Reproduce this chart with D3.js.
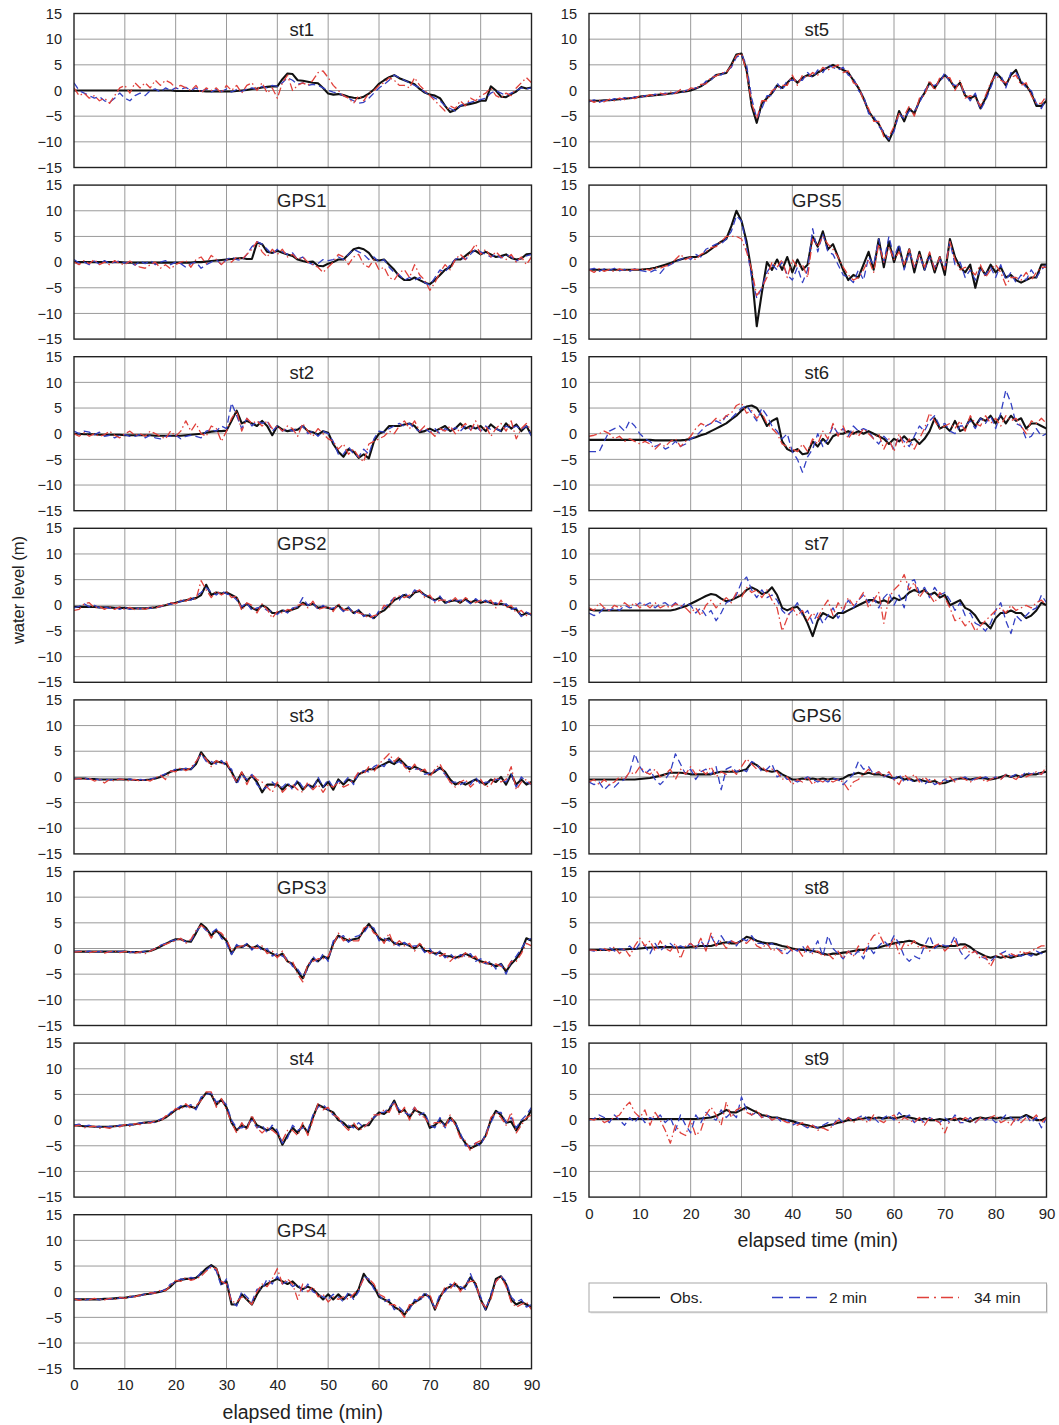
<!DOCTYPE html>
<html><head><meta charset="utf-8">
<script src="https://cdn.jsdelivr.net/npm/d3@7"></script>
<style>
html,body{margin:0;padding:0;background:#fff;}
svg{display:block;font-family:"Liberation Sans",Arial,Helvetica,sans-serif;}
</style></head>
<body><svg id="chart" width="1059" height="1425"></svg>
<script>
// ---------- data ----------
const minutes = d3.range(0, 91);           // sampling grid, 1 min
const xTicks = [0,10,20,30,40,50,60,70,80,90];
const yTicks = [15,10,5,0,-5,-10,-15];
const seriesNames = ["Obs.", "2 min", "34 min"];
const leftStations = ["st1","GPS1","st2","GPS2","st3","GPS3","st4","GPS4"];
const rightStations = ["st5","GPS5","st6","st7","GPS6","st8","st9"];

const st1_obs = [0,0,0,0,0,0,0,0,0,0, 0,0,0,0,0,0,0,0,0,0, -0.1,-0.1,-0.1,-0.1,-0.1,-0.1,-0.2,-0.2,-0.2,-0.2, -0.2,-0.2,-0.1,0,0.1,0.3,0.4,0.6,0.7,0.8, 0.8,2.2,3.3,3.2,2.0,1.9,1.7,1.5,1.4,0.5, -0.6,-0.8,-0.7,-0.9,-1.2,-1.4,-1.5,-1.2,-0.6,0.2, 1.3,2.0,2.6,3.0,2.4,2.0,1.6,1.2,0.3,-0.4, -0.8,-1.0,-1.5,-3.0,-4.2,-3.8,-3.0,-2.8,-2.6,-2.4, -2.0,-2.0,0.8,0.0,-1.2,-1.3,-0.7,-0.2,0.7,0.4,0.6];
const st1_2min = [1.5,0.0,-0.5,-1.0,-1.5,-1.2,-2.0,-2.3,-1.5,-0.5, -1.5,-2.0,-1.0,-0.5,-1.0,0.0,0.3,-0.3,0.5,0.0, 0.5,0.2,0.6,0.0,0.5,-0.2,0.3,-0.3,0.2,-0.2, 0.3,-0.3,0.2,-0.2,0.3,0.5,0.2,0.8,0.5,1.0, 0.8,1.5,2.5,2.0,1.2,1.5,1.0,1.2,1.0,0.5, 0.0,-0.3,-0.5,-1.0,-1.5,-2.0,-2.5,-2.3,-1.5,-0.5, 0.5,1.2,2.0,3.0,2.5,2.0,1.5,1.0,0.5,-0.3, -1.0,-1.5,-2.0,-3.0,-3.5,-4.0,-3.0,-2.5,-2.3,-2.0, -1.8,-1.5,-0.5,0.0,-0.5,-1.0,-0.5,0.0,0.5,0.3,0.5];
const st1_34min = [0.5,-1.0,-0.5,-1.5,-1.0,-2.0,-1.5,-2.5,-1.0,0.5, 1.0,-0.5,1.5,0.5,1.5,0.5,2.0,1.0,2.0,1.5, 0.5,1.0,0.5,0.0,1.0,-0.5,0.5,0.0,0.5,-0.5, 1.0,0.0,1.0,-0.5,1.0,1.5,0.0,1.5,-0.5,0.5, -1.5,1.5,3.0,0.0,1.0,1.5,1.0,2.0,3.5,3.8, 2.5,1.0,0.0,-1.0,-1.5,-2.5,-1.0,-2.0,-0.5,0.0, 1.0,1.5,2.5,2.0,1.0,1.0,0.5,2.5,1.0,0.0, -1.0,-2.0,-3.0,-4.0,-3.0,-3.5,-2.0,-3.0,-1.5,-2.0, -1.0,-0.5,0.5,-1.0,-1.5,-0.5,-1.0,0.5,1.5,2.5,1.5];

const GPS1_obs = [0,0,0,0,0,0,0,0,0,0, -0.1,-0.1,-0.1,-0.1,-0.1,-0.1,-0.1,-0.1,-0.1,-0.1, -0.1,-0.1,-0.1,-0.1,0,0,0.1,0.2,0.3,0.4, 0.5,0.6,0.7,0.8,0.6,0.6,3.8,3.5,2.0,1.8, 2.2,1.8,1.5,1.2,0.5,0.2,0.0,0.1,-0.7,-0.8, -0.3,0.0,0.5,0.5,1.5,2.5,2.8,2.5,1.8,0.5, 0.3,0.5,-0.5,-1.5,-2.8,-3.5,-3.5,-3.0,-3.5,-4.0, -4.3,-3.5,-2.5,-1.5,-1.0,0.5,0.5,1.2,2.0,2.2, 1.5,2.0,1.5,1.0,1.2,1.5,0.8,0.5,0.7,1.5,1.6];
const GPS1_2min = [0.5,-0.2,0,-0.5,0.2,-0.4,0.3,-0.3,0,0.2, -0.2,0,-0.6,0.2,-0.3,0.3,-0.5,0,0.3,-0.5, 0,-0.3,-1.0,-0.3,0,-1.2,-0.5,0,0.5,-0.5, 0.5,1.0,0.5,0.3,1.5,3.0,4.0,3.5,2.5,1.5, 2.5,2.0,1.5,1.8,0.5,1.0,0,-0.5,-0.3,0.5, 0.3,0.5,1.0,0.5,1.5,2.5,2.0,1.5,0.5,1.0, 0,0.5,-1.0,-2.0,-2.5,-3.5,-3.0,-3.5,-3.0,-4.0, -4.5,-3.0,-1.5,-2.0,-0.5,0.5,1.0,0.5,1.5,2.5, 2.0,1.5,1.0,1.5,0.8,1.5,1.0,0.2,0.8,1.2,1.5];
const GPS1_34min = [0,-0.5,0.3,-0.3,0.5,-0.5,0,-0.5,0.3,-0.3, -0.5,0.2,-0.5,-1.0,-1.2,-0.5,0,-1.2,-0.5,-1.3, -0.5,0,0.3,-1.0,0.5,1.0,-0.3,1.3,0.5,-0.5, 0.5,0,1.0,0.5,1.5,2.5,4.0,2.0,1.0,2.5, 1.5,2.5,1.0,1.5,0.5,1.0,0,-0.5,-1.0,-2.0, -1.0,0,1.5,1.0,-0.5,1.0,1.5,-0.5,-1.0,0.5, -1.5,-1.0,-3.0,-3.5,-2.0,-1.5,-3.0,-0.5,-2.5,-3.5, -5.5,-4.0,-2.0,-0.5,-1.5,0.5,1.5,0.5,2.0,3.5, 1.5,2.5,1.0,2.0,1.0,0.5,1.5,0,1.0,-0.5,1.0];

const st2_obs = [0.0,0.0,-0.1,-0.1,-0.1,-0.2,-0.2,-0.2,-0.2,-0.2, -0.3,-0.3,-0.3,-0.3,-0.3,-0.3,-0.4,-0.4,-0.4,-0.4, -0.4,-0.4,-0.3,-0.2,-0.1,0.0,0.2,0.4,0.5,0.5, 0.6,2.5,4.5,2.0,2.5,2.0,1.5,2.5,1.5,-0.3, 1.5,0.8,0.5,0.7,0.8,1.5,0.5,0.3,-0.2,0.5, 0.2,-2.0,-3.5,-4.5,-3.0,-3.5,-4.7,-4.0,-4.8,-1.5, 0.0,0.4,1.5,1.5,1.5,1.8,2.0,1.5,0.3,0.5, 1.0,0.5,1.0,1.5,0.5,1.0,2.0,1.0,1.5,1.0, 1.5,0.5,1.8,1.0,0.5,2.0,1.0,1.8,0.5,1.5,-0.3];
const st2_2min = [0.5,0,0.5,0.3,-0.2,0.3,-0.5,-0.3,-0.8,-0.3, -0.2,-0.5,-0.5,-0.2,-0.8,-0.3,-0.8,-1.0,-0.5,-0.5, -0.3,-1.0,-0.5,-0.3,-0.5,-0.8,0.5,0.8,0.5,1.5, 1.0,6.0,3.5,1.0,3.0,1.5,2.5,2.0,2.5,0.5, 1.5,0.5,1.0,0.5,1.0,1.5,0,0.5,-0.5,0.5, 0,-1.5,-4.0,-4.0,-2.5,-4.0,-4.5,-3.0,-4.0,-1.0, 0.5,0.3,1.0,1.5,2.0,1.5,2.0,1.0,0.5,1.0, 0.3,1.0,0,1.0,0.5,1.2,0.5,1.5,0.8,1.5, 0.5,1.5,0.8,1.0,0.5,1.5,1.0,1.5,0.8,1.5,-0.5];
const st2_34min = [0,-0.5,0.2,-0.5,0,-0.5,-0.2,0.5,-0.3,-0.8, 0,0.5,-0.3,0,-0.5,0.5,0,-0.5,-1.0,0.5, -0.5,0.5,2.5,0.5,2.0,0,-0.5,1.5,1.0,-1.5, 0.5,3.0,4.5,0.5,3.0,2.0,2.5,1.5,2.5,1.0, 1.5,0.5,1.5,1.0,-0.5,2.0,0.5,-0.5,1.0,0, -1.0,-1.5,-3.0,-2.0,-4.0,-3.0,-4.5,-5.5,-2.0,-1.5, -1.0,-0.5,0.5,0,1.5,2.5,1.0,2.5,0.5,1.5, 0.5,-0.5,1.0,0.5,1.5,0,1.0,2.0,0.5,2.5, 0.5,1.5,-0.5,1.0,2.0,0.5,2.5,-1.0,1.0,2.0,0.5];

const GPS2_obs = [-0.3,-0.3,-0.3,-0.3,-0.3,-0.4,-0.4,-0.4,-0.5,-0.5, -0.5,-0.6,-0.6,-0.6,-0.6,-0.5,-0.4,-0.2,0.0,0.3, 0.5,0.8,1.0,1.2,1.4,2.0,4.0,2.0,2.5,2.3, 2.5,2.0,1.5,-0.5,0.3,-0.5,-1.0,0.0,-0.5,-1.5, -1.5,-1.0,-1.2,-0.8,-0.5,0.5,0.0,0.3,-0.5,-0.3, -0.5,-0.8,0.0,-1.0,-0.5,-1.5,-1.0,-2.0,-2.0,-2.5, -1.5,-1.0,0.0,1.0,1.5,2.0,1.5,2.5,2.8,2.0, 1.5,1.0,1.5,0.5,0.8,1.0,0.5,1.2,0.5,1.0, 0.5,0.8,0.5,0.2,0.3,0.0,-0.5,-0.8,-2.0,-1.5,-1.8];
const GPS2_2min = [-0.5,-0.2,0.3,-0.3,0.0,-0.5,-0.3,-0.6,-0.4,-0.8, -0.4,-0.8,-0.5,-0.7,-0.4,-0.6,-0.3,-0.3,0.2,0.2, 0.6,0.7,1.2,1.0,1.8,2.5,3.5,2.5,2.0,2.8, 2.2,2.0,1.0,-0.3,0.5,-1.0,-0.5,-0.3,-1.0,-1.2, -1.8,-0.8,-1.5,-0.5,-0.3,1.5,0.0,0.5,-0.8,0.0, -0.8,-0.5,-0.3,-1.2,-0.3,-1.8,-0.8,-2.2,-1.5,-2.8, -1.0,-0.5,0.5,1.5,1.0,2.5,1.5,3.0,2.5,2.0, 1.5,0.8,1.8,0.3,1.0,0.8,1.0,1.0,0.3,1.3, 0.5,1.0,0.2,0.5,0.0,0.3,-0.8,-0.5,-2.2,-1.3,-2.0];
const GPS2_34min = [-1.0,-0.8,0.3,0.5,-0.5,-0.2,-0.8,-0.3,-0.8,-0.3, -0.8,-0.4,-0.9,-0.5,-0.8,-0.3,-0.6,-0.1,0.0,0.5, 0.3,1.0,0.8,1.5,1.2,4.8,3.0,1.5,2.8,2.0, 2.7,1.5,1.8,-1.0,0.5,0.0,-1.5,0.3,-0.8,-2.5, -1.2,-1.5,-0.8,-1.0,0.0,0.3,-0.5,0.8,-0.8,-0.5, -0.2,-1.2,0.3,-0.8,-1.0,-1.2,-1.5,-1.8,-2.5,-2.0, -1.8,0.0,-0.5,1.5,1.8,1.5,2.0,2.5,3.0,1.5, 2.0,0.5,1.0,1.0,0.5,1.5,0.3,1.5,0.8,0.5, 1.0,0.5,1.0,-0.5,1.0,-0.5,0.0,-1.5,-1.0,-2.0,-1.5];

const st3_obs = [-0.3,-0.3,-0.3,-0.4,-0.4,-0.5,-0.5,-0.5,-0.5,-0.5, -0.5,-0.5,-0.6,-0.6,-0.6,-0.5,-0.3,0.0,0.5,1.0, 1.3,1.5,1.5,1.5,2.5,4.8,3.5,2.5,3.0,2.8, 2.5,1.0,-1.0,0.8,-0.8,0.2,-1.0,-3.0,-1.5,-1.5, -1.5,-2.5,-1.5,-2.0,-1.0,-2.5,-1.5,-2.0,-0.5,-2.0, -1.0,-2.5,-0.5,-1.5,-0.5,-1.0,0.5,1.0,1.5,1.5, 2.0,2.5,3.0,2.5,3.5,2.5,1.5,2.0,1.5,1.0, 0.5,1.0,1.8,1.0,-0.5,-1.5,-1.0,-1.5,-1.0,-0.5, -1.0,-1.5,-0.5,-1.0,0.0,-1.5,0.5,-1.5,-0.5,-1.5,-1.0];
const st3_2min = [-0.3,-0.4,-0.2,-0.5,-0.3,-0.6,-0.4,-0.6,-0.5,-0.4, -0.6,-0.4,-0.7,-0.5,-0.6,-0.4,-0.2,0.2,0.6,1.0, 1.5,1.3,1.7,1.4,2.8,4.5,3.0,3.0,2.5,3.2, 2.0,1.5,-1.5,0.5,-0.5,0.5,-1.5,-2.5,-2.0,-1.0, -2.0,-2.0,-1.0,-2.5,-0.5,-2.0,-1.5,-2.5,0.0,-2.0, -0.5,-2.0,-0.8,-1.2,0.0,-1.5,0.8,1.2,1.0,2.0, 2.5,2.0,3.5,2.5,3.0,2.0,2.0,1.5,1.5,0.5, 0.8,1.2,1.5,0.5,-1.0,-1.0,-1.5,-1.0,-1.5,0.0, -1.5,-1.0,-1.0,-0.5,-0.5,-1.0,0.5,-2.0,0.0,-1.0,-1.5];
const st3_34min = [-0.5,-0.3,-0.5,-0.3,-0.8,-0.5,-1.2,-0.5,-0.8,-0.4, -0.6,-0.8,-0.5,-0.8,-0.5,-0.8,-0.2,0.3,-0.5,1.2, 1.0,1.8,1.2,1.8,3.0,4.5,3.5,2.0,3.2,2.5, 3.0,0.5,-1.0,1.0,-1.5,0.5,-0.5,-1.0,-2.0,-3.0, -1.0,-3.0,-2.0,-1.5,-2.5,-3.0,-1.0,-2.5,-1.5,-3.0, -1.5,-2.0,-1.0,-2.0,-1.5,-0.5,1.0,0.5,2.0,1.0, 2.5,3.5,4.5,3.0,4.0,2.0,1.0,2.5,1.0,1.5, 0.0,1.5,2.5,0.5,-1.0,-2.0,-1.0,-0.5,-2.0,-1.0, -0.5,-2.0,-1.5,0.0,-1.0,-0.5,2.0,-2.5,-1.0,-0.5,-1.5];

const GPS3_obs = [-0.6,-0.6,-0.6,-0.6,-0.6,-0.6,-0.6,-0.6,-0.6,-0.6, -0.6,-0.7,-0.7,-0.7,-0.6,-0.5,-0.1,0.4,0.9,1.4, 1.8,1.8,1.4,1.3,3.0,4.8,4.0,2.5,3.5,2.5, 1.5,-1.0,0.5,0.3,0.8,0.0,0.5,0.0,-0.5,-1.0, -1.5,-1.0,-2.5,-3.0,-4.5,-5.8,-3.5,-2.0,-2.5,-1.5, -2.0,1.0,2.5,2.0,1.5,1.8,2.0,3.5,4.8,3.5, 2.0,1.5,2.0,1.0,0.8,1.0,0.5,0.0,0.8,-0.5, -0.5,-1.0,-0.8,-1.5,-1.5,-1.8,-1.5,-1.0,-1.5,-2.0, -2.5,-2.8,-3.0,-3.5,-3.0,-4.5,-3.0,-2.0,-0.5,2.0,1.5];
const GPS3_2min = [-0.6,-0.5,-0.7,-0.5,-0.7,-0.6,-0.5,-0.7,-0.5,-0.6, -0.5,-0.8,-0.6,-0.8,-0.5,-0.4,0.0,0.6,1.0,1.5, 1.7,1.9,1.3,1.5,3.2,4.5,3.5,3.0,3.8,2.0, 1.0,-1.2,0.8,0.0,1.0,-0.3,0.8,-0.5,0.0,-1.5, -1.0,-1.5,-2.0,-3.5,-4.0,-5.5,-4.0,-1.5,-2.8,-1.0, -2.5,1.5,2.0,2.5,1.2,2.2,2.5,3.0,4.5,4.0, 1.5,2.0,1.5,1.2,0.5,1.2,0.3,0.5,0.5,-0.8, 0.0,-1.5,-0.5,-1.8,-1.0,-2.0,-1.2,-1.5,-1.0,-2.5, -2.0,-3.0,-2.5,-4.0,-3.0,-5.0,-2.5,-1.5,0.0,1.5,2.0];
const GPS3_34min = [-0.7,-0.6,-0.5,-0.8,-0.6,-0.5,-0.9,-0.6,-0.5,-0.8, -0.6,-0.6,-0.9,-0.6,-1.0,-0.5,0.0,0.5,0.8,1.2, 1.5,2.0,1.0,1.8,3.5,4.5,3.8,2.0,3.5,3.0, 1.8,-0.5,0.2,0.5,0.5,0.3,0.0,0.5,-1.0,-0.5, -1.8,-0.5,-2.8,-2.5,-5.0,-6.5,-3.0,-2.5,-2.0,-2.0, -1.5,0.5,3.0,1.5,2.0,1.5,1.5,4.0,4.5,3.0, 2.5,1.0,3.0,0.5,1.5,0.5,1.0,-0.5,1.0,0.0, -1.0,-0.5,-1.5,-1.0,-2.5,-1.5,-2.0,-0.8,-2.0,-1.5, -3.0,-2.5,-3.5,-3.0,-3.5,-4.0,-2.5,-2.5,-1.0,1.0,0.5];

const st4_obs = [-1.0,-1.1,-1.2,-1.2,-1.3,-1.3,-1.3,-1.3,-1.2,-1.1, -1.0,-0.9,-0.8,-0.6,-0.5,-0.4,-0.3,0.0,0.5,1.2, 2.0,2.5,2.8,2.6,2.3,4.0,5.3,5.0,3.0,4.0, 2.5,-0.5,-2.0,-1.0,-1.5,0.5,-1.0,-1.5,-2.0,-1.5, -2.5,-4.8,-3.0,-1.5,-2.5,-1.0,-2.5,0.5,3.0,2.5, 2.0,1.5,0.0,-0.5,-1.5,-1.0,-1.8,-1.0,-1.0,0.5, 1.5,1.2,2.0,3.8,1.5,2.0,0.5,2.0,1.5,1.0, -1.5,-1.0,0.0,-1.0,0.5,-0.5,-3.0,-4.5,-5.5,-5.0, -4.5,-3.0,0.0,1.8,1.0,-0.5,-0.3,-2.0,-0.3,0.2,2.0];
const st4_2min = [-1.0,-0.8,-1.2,-1.0,-1.4,-1.2,-1.5,-1.2,-1.3,-1.0, -1.1,-0.8,-1.0,-0.5,-0.7,-0.3,-0.5,0.2,0.5,1.5, 2.0,2.8,2.5,3.0,2.0,4.5,5.0,5.3,3.5,4.0, 3.0,0.0,-1.5,-1.5,-1.0,0.0,-1.5,-1.0,-2.5,-1.0, -2.0,-4.5,-3.5,-1.0,-2.0,-1.5,-2.0,1.0,2.5,3.0, 2.0,1.0,0.5,-1.0,-1.0,-1.5,-0.5,-1.5,-0.5,0.5, 1.5,1.5,2.5,3.5,2.0,1.5,1.0,2.5,1.0,1.5, -1.0,-1.5,0.5,-1.5,0.0,-0.5,-2.5,-5.0,-5.0,-4.5, -5.0,-2.5,-0.5,1.5,1.5,-0.5,0.5,-1.5,0.0,1.0,2.5];
const st4_34min = [-1.2,-1.0,-1.5,-1.3,-1.2,-1.6,-1.4,-1.6,-1.2,-1.3, -0.9,-1.2,-0.7,-0.9,-0.4,-0.6,-0.1,-0.3,0.8,1.0, 2.3,2.0,3.2,2.2,2.8,3.8,5.5,5.5,2.5,4.2, 2.0,-0.5,-2.5,-0.5,-2.0,1.0,-1.5,-2.5,-1.5,-2.0, -2.8,-4.0,-2.0,-2.0,-3.0,-0.5,-3.0,0.0,3.2,2.0, 2.5,1.0,0.5,-1.0,-2.0,-0.5,-2.0,-1.5,-0.5,1.0, 1.0,2.0,1.5,3.5,1.0,2.5,0.0,2.5,1.0,0.5, -1.0,-0.5,-0.5,-1.5,1.0,-1.0,-3.5,-4.0,-6.0,-4.5, -4.0,-3.5,0.5,1.5,0.5,-1.0,1.5,-2.5,-1.0,0.5,1.0];

const GPS4_obs = [-1.5,-1.5,-1.5,-1.5,-1.5,-1.5,-1.4,-1.4,-1.3,-1.2, -1.2,-1.0,-0.9,-0.7,-0.5,-0.4,-0.2,0.0,0.3,1.0, 2.0,2.3,2.5,2.5,2.7,3.5,4.5,5.2,4.5,1.5, 2.0,-2.5,-2.5,-0.5,-1.5,-2.5,-0.5,1.0,1.5,2.0, 2.5,2.0,1.5,2.0,1.0,0.5,1.0,0.5,-0.5,-1.5, -0.5,-1.5,-0.5,-1.5,-0.5,-1.0,0.5,3.5,2.0,1.0, -1.0,-1.5,-2.0,-3.0,-3.5,-4.5,-3.0,-2.0,-1.5,-0.5, -1.0,-3.5,-1.0,0.5,1.0,1.5,0.5,1.0,2.8,1.5, -1.5,-3.5,-1.0,2.5,3.0,1.5,-1.5,-2.5,-2.0,-2.5,-3.0];
const GPS4_2min = [-1.6,-1.4,-1.6,-1.5,-1.4,-1.6,-1.3,-1.5,-1.2,-1.3, -1.1,-1.1,-0.8,-0.8,-0.4,-0.5,0.0,0.0,0.5,1.5, 1.8,2.5,2.3,2.8,2.5,3.8,4.2,5.0,4.0,1.0, 2.5,-2.0,-2.8,0.0,-1.0,-2.0,0.5,0.5,2.5,1.5, 3.0,1.5,2.0,1.0,1.5,0.0,1.5,0.0,-0.5,-1.0, -1.5,-0.5,-1.0,-2.0,0.0,-1.5,0.0,3.0,2.5,0.5, -0.5,-2.0,-1.5,-3.5,-3.0,-4.0,-3.5,-1.5,-2.0,0.0, -1.5,-3.0,-0.5,0.0,1.5,1.0,1.0,0.5,3.5,1.0, -1.0,-3.5,-0.5,2.0,3.0,2.0,-1.0,-2.0,-1.5,-3.0,-2.5];
const GPS4_34min = [-1.4,-1.7,-1.4,-1.6,-1.3,-1.5,-1.6,-1.3,-1.5,-1.1, -1.3,-0.9,-1.0,-0.6,-0.6,-0.2,-0.3,0.3,0.2,1.2, 2.2,2.0,2.8,2.2,2.5,3.0,4.0,4.8,4.5,2.0, 1.5,-2.0,-2.0,-1.0,-1.5,-2.5,0.0,1.5,1.0,2.5, 4.5,1.5,2.5,1.5,-1.5,1.5,0.0,1.0,-1.0,-0.5, -2.0,-1.0,-1.5,-1.0,-1.5,-0.5,0.5,2.5,2.5,1.5, -0.5,-1.0,-2.5,-2.5,-3.5,-5.0,-2.5,-2.5,-1.0,-1.0, -0.5,-3.5,-1.5,1.0,0.5,2.0,0.0,1.5,2.0,2.0, -2.0,-3.0,-1.5,2.0,3.0,1.0,-2.0,-3.0,-2.5,-2.0,-3.5];

const st5_obs = [-2.0,-2.0,-2.0,-1.9,-1.9,-1.8,-1.7,-1.6,-1.5,-1.4, -1.2,-1.1,-1.0,-0.9,-0.8,-0.7,-0.6,-0.5,-0.3,-0.2, 0.0,0.4,0.8,1.5,2.2,3.0,3.2,3.4,5.0,7.0, 7.2,4.0,-3.0,-6.3,-2.5,-1.5,-0.5,1.0,0.5,1.5, 2.5,1.5,2.5,3.0,2.8,3.5,4.0,4.5,5.0,4.5, 4.0,3.5,2.0,0.5,-1.5,-4.0,-5.5,-6.5,-8.5,-9.8, -7.5,-4.0,-6.0,-3.5,-4.5,-2.0,-0.5,1.5,0.5,2.0, 3.0,2.0,0.5,1.5,-1.0,-1.5,-1.0,-3.5,-1.5,1.0, 3.5,2.5,1.0,3.0,4.0,1.5,1.0,-0.5,-3.0,-3.0,-2.0];
const st5_2min = [-2.2,-1.8,-2.3,-1.9,-2.0,-1.6,-1.9,-1.4,-1.6,-1.2, -1.4,-1.0,-1.2,-0.7,-1.0,-0.5,-0.8,-0.3,-0.5,0.0, 0.2,0.5,0.7,1.8,2.0,3.2,3.0,3.8,4.5,6.5, 7.0,5.0,-1.5,-5.5,-3.5,-1.0,-1.0,1.5,0.0,2.0, 2.0,2.0,2.0,3.5,2.5,4.0,3.5,5.0,4.5,4.0, 4.5,3.0,2.5,0.0,-1.0,-4.5,-5.0,-7.0,-8.0,-9.5, -8.0,-4.5,-5.5,-4.0,-4.0,-2.5,0.0,1.0,1.0,1.5, 3.5,1.5,1.0,1.0,-0.5,-2.0,-0.5,-3.8,-2.0,0.5, 3.0,3.0,0.5,3.5,3.5,2.0,0.5,0.0,-2.5,-3.5,-1.5];
const st5_34min = [-1.8,-2.3,-1.9,-2.2,-1.7,-2.0,-1.5,-1.8,-1.3,-1.6, -1.0,-1.3,-0.8,-1.1,-0.5,-0.8,-0.3,-0.6,0.2,-0.3, 0.5,0.3,1.2,1.3,2.5,2.8,3.5,3.5,4.8,6.8, 7.3,3.5,-2.5,-5.5,-2.0,-2.0,0.0,0.5,1.0,1.0, 3.0,1.0,3.0,2.5,3.5,3.0,4.5,4.0,4.5,5.0, 3.5,3.8,1.5,1.0,-2.0,-3.5,-6.0,-6.0,-9.0,-9.0, -7.0,-4.5,-5.0,-3.0,-5.0,-1.5,-1.0,2.0,0.0,2.5, 2.5,2.5,0.0,2.0,-1.5,-1.0,-1.5,-3.0,-1.0,1.5, 3.0,2.0,1.5,2.5,3.0,1.0,1.5,-1.0,-2.5,-2.5,-1.0];

const GPS5_obs = [-1.5,-1.5,-1.5,-1.5,-1.5,-1.5,-1.5,-1.5,-1.5,-1.5, -1.5,-1.4,-1.3,-1.1,-0.8,-0.5,-0.2,0.2,0.5,0.8, 1.0,1.0,1.3,1.8,2.5,3.3,4.0,4.5,7.0,10.0, 8.0,4.0,-2.0,-12.5,-6.0,0.0,-1.5,0.5,-1.5,1.0, -2.0,0.5,-1.5,-0.5,5.0,3.0,6.0,2.5,3.5,1.0, -1.5,-3.5,-2.5,-3.0,-0.5,2.0,-1.5,4.5,-1.0,4.0, 0.0,3.0,-1.0,2.5,-2.0,2.0,-1.5,1.5,-2.0,1.0, -2.5,4.5,1.0,-1.0,-2.0,-0.5,-5.0,-1.0,-2.5,-0.5, -2.0,-1.0,-3.0,-2.5,-3.5,-4.0,-3.5,-3.0,-3.0,-0.5,-0.5];
const GPS5_2min = [-1.5,-1.2,-1.8,-1.3,-1.6,-1.2,-1.7,-1.4,-1.8,-1.3, -1.6,-1.8,-2.0,-1.5,-2.2,-1.0,-0.5,0.0,0.5,1.0, 0.5,1.5,1.0,2.5,3.0,3.5,3.5,4.5,6.0,9.0, 8.0,3.0,-3.0,-7.0,-5.0,-2.0,-0.5,-1.5,0.0,-2.5, -3.5,-1.0,-4.0,-1.5,6.5,2.0,5.5,2.0,1.5,-0.5, -2.5,-3.0,-4.0,-1.5,-3.5,1.0,-0.5,4.5,0.0,5.0, 1.0,3.5,-1.5,2.0,-1.0,1.5,-1.5,1.0,-1.0,0.5, -1.0,4.0,-0.5,0.0,-3.0,-1.5,-3.5,-1.5,-2.5,-1.0, -3.0,-0.5,-3.5,-2.0,-4.0,-2.5,-3.5,-1.5,-3.0,-1.5,-0.5];
const GPS5_34min = [-1.5,-2.0,-1.3,-1.8,-1.4,-1.9,-1.3,-1.7,-1.5,-1.4, -1.5,-1.3,-1.6,-1.0,-1.2,-0.8,-0.5,0.5,1.5,0.5, 1.0,0.5,1.5,2.0,2.8,3.0,4.0,5.0,5.0,5.0, 4.5,2.0,-1.5,-6.5,-5.0,-3.0,0.0,-1.0,0.5,-3.0, 0.5,-1.0,-0.5,-3.0,4.5,3.0,5.0,3.5,2.5,1.0, -1.0,-2.5,-3.5,-3.0,-1.5,0.5,-2.0,3.5,0.0,3.0, 0.5,2.0,-0.5,2.5,-1.0,1.5,-1.0,2.0,-1.5,1.0, -1.5,4.0,0.5,-1.5,-1.0,-1.5,-2.5,-0.5,-3.0,-1.5, -0.5,-2.0,-4.5,-3.0,-3.0,-3.5,-2.0,-3.5,-2.0,-1.0,-1.0];

const st6_obs = [-1.2,-1.2,-1.2,-1.2,-1.2,-1.2,-1.2,-1.2,-1.2,-1.2, -1.2,-1.2,-1.2,-1.3,-1.3,-1.3,-1.3,-1.3,-1.3,-1.2, -1.0,-0.7,-0.3,0.0,0.5,1.0,1.5,2.0,2.8,3.5, 4.5,5.3,5.5,5.0,3.5,1.5,2.5,3.0,-1.5,-3.0, -3.5,-3.0,-4.0,-3.8,-1.5,-2.5,-1.0,-2.0,-0.5,0.0, 0.0,0.5,0.0,0.5,0.0,0.5,0.0,-0.5,-1.0,-2.0, -1.0,-1.5,-0.5,-1.5,-1.0,-2.0,-1.0,0.5,3.0,1.0, 1.5,0.5,2.5,0.5,1.0,3.0,1.5,3.0,2.5,3.5, 2.0,3.5,2.0,3.5,2.5,3.0,1.0,2.0,2.0,1.5,1.0];
const st6_2min = [-3.5,-3.5,-3.5,-1.5,0.5,1.0,1.5,0.5,2.5,1.5, 0.0,-1.0,-1.5,-2.5,-2.0,-3.0,-2.5,-1.5,-2.5,-2.0, -1.0,-0.5,0.5,1.5,2.0,2.5,2.0,3.5,3.0,4.0, 5.0,5.5,4.0,2.5,5.0,3.5,1.5,0.5,-1.0,0.0, -3.5,-5.0,-7.5,-4.5,-3.0,0.0,-2.5,-1.0,1.5,0.0, 1.0,-0.5,1.5,0.5,1.0,0.5,-1.0,-2.0,-0.5,-1.5, -3.0,-0.5,-1.5,-2.5,-0.5,1.5,0.5,2.5,3.5,1.5, 2.0,0.5,0.0,1.5,1.5,2.5,1.0,3.0,2.0,3.5, 1.0,4.0,8.5,6.0,2.0,1.5,-1.0,-0.5,1.0,-0.5,0.0];
const st6_34min = [-0.5,-0.3,0.0,0.5,0.0,-1.0,-0.5,-1.5,-1.0,-1.5, -2.0,-1.5,-2.0,-3.0,-2.0,-2.5,-1.5,-1.0,-2.5,-1.5, -0.5,1.0,2.0,1.5,2.0,3.0,2.5,3.5,4.0,5.5, 6.0,4.0,4.5,3.0,4.0,2.0,1.0,0.0,-2.0,-2.5, -3.0,-3.5,-2.0,-3.5,-1.0,-2.0,0.5,-1.0,2.0,-0.5, 1.5,-1.0,0.5,-0.5,1.0,0.0,-1.0,0.0,-3.0,-1.0, -3.5,0.0,-2.5,-1.0,-3.0,-1.0,1.0,4.0,2.5,1.0, 1.5,2.0,1.0,2.5,0.5,3.5,2.0,1.5,3.5,2.0, 3.0,1.5,3.5,2.5,3.0,1.5,0.0,2.5,2.0,3.0,2.0];

const st7_obs = [-0.8,-1.0,-1.0,-1.0,-1.0,-1.0,-1.0,-1.0,-1.0,-1.0, -1.0,-1.0,-1.0,-1.0,-1.0,-1.0,-1.0,-0.8,-0.5,-0.2, 0.3,0.8,1.3,1.8,2.2,2.0,1.3,0.8,1.0,1.5, 2.0,3.0,3.5,3.0,2.2,2.5,3.5,2.0,-0.5,-1.0, -0.5,-0.3,-1.5,-3.5,-6.0,-3.0,-1.5,-2.0,-2.5,-1.5, -1.5,-1.0,-0.5,0.0,0.5,1.0,1.0,0.5,1.0,0.5, 1.5,1.0,1.5,2.5,3.0,2.5,3.0,2.0,2.5,1.5, 2.0,0.0,0.5,1.0,-0.5,-1.0,-2.0,-3.5,-3.5,-4.5, -2.5,-1.5,-1.5,-1.0,-1.5,-1.5,-2.5,-2.0,-1.0,0.5,0.0];
const st7_2min = [-1.5,-2.0,-1.5,-0.5,-1.0,-0.5,-1.0,0.0,-0.5,-0.3, 0.5,0.0,0.5,-0.5,0.3,0.5,-0.3,0.5,-0.5,0.5, 0.0,-1.5,-0.5,-2.0,-1.0,-3.0,-1.5,0.5,1.0,2.0, 4.5,5.5,3.0,1.5,3.0,1.5,2.0,1.0,-1.0,-2.0, -1.0,0.5,-2.0,-1.0,-3.5,-1.5,-3.5,-2.0,-0.5,-2.5, -1.0,1.0,-0.5,1.0,2.0,0.5,1.5,-0.5,1.5,2.5, 0.0,2.0,-0.5,4.5,5.0,2.5,3.5,1.5,3.5,2.0, 2.5,1.0,-1.0,0.5,-2.0,-1.5,-3.5,-4.0,-5.0,-3.5, -1.0,0.5,-3.0,-5.5,-2.0,-3.0,-2.0,-1.0,-0.5,2.0,0.5];
const st7_34min = [-0.5,-1.0,0.5,-0.5,-1.0,0.0,-0.5,0.5,-0.3,0.5, -0.5,0.3,-0.5,0.5,-0.5,0.0,-0.5,0.3,0.0,-0.5, -1.5,-0.5,-2.0,0.0,1.0,-0.5,0.5,1.5,0.5,2.5, 1.5,3.5,2.5,3.0,1.5,3.0,1.0,-0.5,-5.0,-2.5, -0.5,-2.0,-1.0,-3.0,-1.5,-2.5,-0.5,1.0,-2.0,0.5, -1.0,1.5,0.0,1.0,2.5,-0.5,1.0,2.5,-3.5,1.5, 3.0,4.0,6.0,3.0,4.5,1.5,3.0,2.0,0.5,2.5, 1.5,-0.5,-3.0,-2.5,-4.0,-3.0,-5.0,-4.0,-3.0,-2.0, -1.0,-0.5,-1.5,0.0,-1.0,-0.5,0.0,-0.5,0.5,1.0,0.0];

const GPS6_obs = [-0.5,-0.5,-0.5,-0.5,-0.5,-0.5,-0.5,-0.5,-0.5,-0.5, -0.4,-0.3,-0.2,0.0,0.2,0.5,0.8,0.8,0.8,0.7, 0.5,0.5,0.5,0.5,0.5,0.8,1.0,1.0,1.0,1.0, 1.2,1.5,2.8,2.3,1.5,1.2,1.0,1.2,0.5,0.0, -0.5,-0.5,-0.3,-0.5,-0.3,-0.5,-0.3,-0.5,-0.3,-0.5, -0.3,0.3,0.5,0.8,0.5,0.8,0.5,0.5,0.3,0.0, -0.3,0.0,-0.5,-0.3,-0.8,-0.5,-0.8,-1.0,-0.8,-1.3, -1.2,-0.8,-0.5,-0.3,-0.3,-0.5,-0.3,-0.2,-0.3,-0.5, -0.3,0.0,0.3,0.0,0.3,0.0,0.5,0.5,0.5,0.8,1.0];
const GPS6_2min = [-1.0,-1.5,-1.0,-2.5,-1.5,-2.0,-1.0,-0.5,1.0,4.5, 2.0,0.5,1.5,-0.5,-1.5,-0.5,1.0,4.5,2.5,0.5, 1.5,-0.5,1.0,1.5,0.5,2.0,-2.5,1.5,2.0,1.0, 1.5,1.0,3.0,2.5,1.0,1.5,2.5,0.0,0.5,-0.5, -0.5,-1.0,-0.5,0.0,-0.5,-1.0,-0.5,-1.0,-0.3,-0.5, -1.5,-0.5,0.5,3.0,1.5,2.0,0.5,1.0,0.0,0.5, -0.5,0.5,-1.0,-0.5,-1.0,-0.5,-1.5,-0.5,-1.5,-1.0, -0.5,-1.0,-0.5,-0.5,0.0,-0.8,-0.3,-0.5,0.0,-0.5, 0.0,-0.5,0.5,0.0,0.5,0.0,1.0,0.5,1.0,0.5,1.5];
const GPS6_34min = [-1.0,-0.5,-1.5,-0.5,-1.5,-1.0,0.0,-0.5,1.0,0.5, 2.0,1.0,0.5,1.5,0.0,0.5,1.5,-0.5,1.5,0.5, 2.0,0.5,1.5,0.5,2.0,0.0,1.0,0.5,1.5,0.5, 2.0,3.5,2.5,1.5,2.0,1.0,1.5,1.0,-0.5,0.0, -1.5,-0.5,-1.0,0.0,-1.5,-0.5,-1.0,-0.5,-1.0,-0.5, -1.0,-2.5,-1.0,-0.5,0.5,1.5,0.5,1.0,0.0,1.0, -0.5,-1.5,0.5,-0.5,0.5,-1.0,0.0,-1.0,-0.5,-1.5, -0.5,0.0,-1.0,0.0,-0.5,-1.0,-0.5,0.0,-1.0,-0.5, 0.0,-0.5,0.5,0.0,-0.5,0.5,0.0,0.5,1.0,0.5,2.0];

const st8_obs = [-0.3,-0.3,-0.3,-0.3,-0.3,-0.2,-0.2,-0.2,-0.1,-0.1, 0.0,0.1,0.2,0.2,0.3,0.3,0.3,0.2,0.2,0.2, 0.3,0.4,0.5,0.5,0.5,0.8,1.0,1.2,1.0,1.0, 1.5,2.3,2.0,1.5,1.2,1.0,1.0,0.8,0.5,0.3, 0.0,-0.2,-0.3,-0.3,-0.5,-0.7,-1.0,-1.2,-1.0,-1.0, -0.8,-0.7,-0.5,-0.3,-0.3,0.0,0.0,0.2,0.5,0.8, 1.0,1.2,1.3,1.5,1.3,0.8,0.5,0.3,0.3,0.5, 0.3,0.5,0.5,0.8,0.8,0.3,-0.5,-1.0,-1.5,-1.8, -1.5,-1.8,-1.5,-1.8,-1.5,-1.3,-1.0,-1.0,-1.2,-0.8,-0.5];
const st8_2min = [-0.3,-0.5,0.0,-0.3,0.2,-0.5,0.0,-0.3,0.5,-0.5, 1.0,0.5,-1.0,1.0,-0.5,0.5,1.0,0.0,0.5,0.0, 1.0,0.0,1.5,0.0,2.5,0.5,2.5,1.0,1.5,0.5, 2.0,1.5,2.5,1.0,1.0,0.5,1.0,0.0,-0.5,-1.0, 0.0,-0.5,0.5,-1.0,-0.5,1.5,-1.5,2.5,0.0,-1.0, -2.0,-0.5,-1.5,-0.5,-2.0,0.5,-1.0,0.5,1.5,0.5, 2.5,1.0,-1.5,-2.5,-1.5,-2.0,0.5,2.5,0.0,1.0, 0.5,0.5,2.5,-0.5,-2.0,-1.0,-0.5,-1.5,-2.0,-2.5, -1.5,-1.0,-0.5,-1.5,-1.0,-1.5,-1.0,-1.5,-0.5,-1.0,-0.5];
const st8_34min = [-0.3,-0.3,-0.5,0.0,-0.5,0.3,-1.0,0.0,-1.5,0.5, 2.0,0.5,1.5,-0.5,1.5,0.0,-0.5,1.0,-2.0,0.5, 1.0,0.0,2.0,-0.5,3.0,0.5,1.5,0.0,1.5,1.0, 1.5,1.0,2.0,0.5,0.0,1.0,-0.5,0.0,-1.0,0.5, -0.5,0.0,-1.5,0.5,-1.0,-0.5,-1.5,-1.0,-2.0,-0.5, -2.0,-0.5,-1.5,0.5,-1.0,1.0,2.5,3.0,1.0,0.0, 2.0,-1.0,1.0,0.5,1.5,0.0,0.5,-0.5,0.5,1.0, -0.5,0.5,1.5,-0.5,0.5,-1.0,-0.5,-2.0,-1.5,-3.5, -1.5,-1.0,-2.0,-1.0,-1.5,-0.5,-1.0,-0.5,0.0,0.5,0.5];

const st9_obs = [0.2,0.2,0.2,0.2,0.2,0.2,0.2,0.2,0.2,0.2, 0.2,0.2,0.2,0.2,0.2,0.2,0.2,0.2,0.2,0.2, 0.2,0.2,0.3,0.4,0.5,0.8,1.3,2.0,1.5,1.5, 2.0,2.5,2.0,1.5,1.0,0.8,0.5,0.5,0.2,0.0, -0.2,-0.5,-0.8,-1.0,-1.3,-1.5,-1.3,-1.0,-0.8,-0.5, -0.3,0.0,0.0,0.2,0.3,0.5,0.3,0.5,0.3,0.5, 0.3,0.5,0.8,0.5,0.3,0.0,0.3,0.0,0.0,0.2, 0.0,0.2,0.0,0.3,0.0,-0.3,0.3,0.5,0.3,0.5, 0.3,0.5,0.3,0.5,0.5,0.5,1.0,0.5,0.0,0.0,0.5];
const st9_2min = [0.0,0.3,1.0,0.5,-0.5,1.0,0.0,-1.0,0.5,-0.5, 1.0,-0.5,0.5,0.0,1.0,-0.5,0.5,-2.0,1.0,-1.0, -2.5,1.0,-0.5,1.5,0.5,0.0,2.0,0.5,1.5,0.5, 4.5,2.0,1.0,1.5,0.5,1.0,0.0,0.5,-0.5,0.0, -1.0,-0.5,-1.0,-1.5,-1.0,-1.5,-1.0,-0.5,-1.0,0.5, -0.5,0.5,0.0,0.5,1.0,0.0,0.5,-0.5,0.5,1.0, 0.0,1.5,0.5,1.0,-0.5,0.5,-0.5,0.5,0.0,-0.5, 0.5,-0.5,1.0,-0.5,-0.5,0.5,-0.5,0.5,0.0,0.5, -0.5,0.0,1.0,0.5,-0.5,0.5,1.0,-0.5,0.5,-1.5,0.5];
const st9_34min = [0.2,0.0,0.5,-0.5,0.0,0.5,1.0,2.5,3.5,1.5, 0.5,2.0,-1.0,1.5,0.0,-2.0,-4.5,-1.0,-2.5,-3.0, 0.0,-3.0,-2.0,1.0,2.5,1.0,-1.0,3.5,0.5,2.0, 2.5,1.5,1.0,2.0,0.5,1.0,0.0,0.5,0.0,-0.5, -0.5,-1.0,-0.5,-1.5,-1.0,-2.0,-1.5,-2.0,-1.0,0.0, -0.5,0.5,-0.5,0.5,0.0,-0.5,1.0,0.0,-0.5,0.5, 1.0,-0.5,0.5,0.0,-0.5,0.5,-1.0,0.5,0.0,-0.5, -2.5,0.0,0.5,-0.5,0.5,0.0,-0.5,0.5,0.0,0.5, 1.0,-0.5,0.0,-1.0,0.5,-0.5,0.5,0.0,1.0,-0.5,0.5];

// table built from the arrays above
const stationData = {
  st1:[st1_obs,st1_2min,st1_34min], GPS1:[GPS1_obs,GPS1_2min,GPS1_34min],
  st2:[st2_obs,st2_2min,st2_34min], GPS2:[GPS2_obs,GPS2_2min,GPS2_34min],
  st3:[st3_obs,st3_2min,st3_34min], GPS3:[GPS3_obs,GPS3_2min,GPS3_34min],
  st4:[st4_obs,st4_2min,st4_34min], GPS4:[GPS4_obs,GPS4_2min,GPS4_34min],
  st5:[st5_obs,st5_2min,st5_34min], GPS5:[GPS5_obs,GPS5_2min,GPS5_34min],
  st6:[st6_obs,st6_2min,st6_34min], st7:[st7_obs,st7_2min,st7_34min],
  GPS6:[GPS6_obs,GPS6_2min,GPS6_34min], st8:[st8_obs,st8_2min,st8_34min],
  st9:[st9_obs,st9_2min,st9_34min]
};

// ---------- layout / style ----------
const colX = [74, 589];
const panelW = 457.5, panelH = 154;
const rowTop = i => 13.5 + i * 171.6;
const styles = [
  {stroke:"#111111", width:2.1, dash:null},
  {stroke:"#3340c4", width:1.3, dash:"7,4"},
  {stroke:"#e0413b", width:1.3, dash:"8,3,1.5,3"}
];
const font = '"Liberation Sans", Arial, Helvetica, sans-serif';

const svg = d3.select("#chart");
const defs = svg.append("defs");

function drawPanel(name, col, row, showX) {
  const x0 = colX[col], y0 = rowTop(row);
  const x = d3.scaleLinear().domain([0, 90]).range([x0, x0 + panelW]);
  const y = d3.scaleLinear().domain([-15, 15]).range([y0 + panelH, y0]);
  const g = svg.append("g");
  const clipId = "clip-" + name;
  defs.append("clipPath").attr("id", clipId).append("rect")
    .attr("x", x0).attr("y", y0).attr("width", panelW).attr("height", panelH);

  // grid
  g.append("g").selectAll("line").data(xTicks.slice(1, -1)).join("line")
    .attr("x1", d => x(d)).attr("x2", d => x(d)).attr("y1", y0).attr("y2", y0 + panelH)
    .attr("stroke", "#9a9a9a").attr("stroke-width", 1);
  g.append("g").selectAll("line").data(yTicks.slice(1, -1)).join("line")
    .attr("y1", d => y(d)).attr("y2", d => y(d)).attr("x1", x0).attr("x2", x0 + panelW)
    .attr("stroke", "#9a9a9a").attr("stroke-width", 1);

  // series
  const line = d3.line().x((d, i) => x(minutes[i])).y(d => y(d));
  const lines = g.append("g").attr("clip-path", `url(#${clipId})`);
  stationData[name].forEach((vals, k) => {
    lines.append("path").datum(vals).attr("d", line)
      .attr("fill", "none").attr("stroke", styles[k].stroke)
      .attr("stroke-width", styles[k].width)
      .attr("stroke-dasharray", styles[k].dash)
      .attr("stroke-linejoin", "round");
  });

  // frame
  g.append("rect").attr("x", x0).attr("y", y0).attr("width", panelW).attr("height", panelH)
    .attr("fill", "none").attr("stroke", "#222").attr("stroke-width", 1.4);

  // y axis labels
  const yAxis = d3.axisLeft(y).tickValues(yTicks).tickSize(0).tickPadding(12)
    .tickFormat(d => d < 0 ? "\u2212" + Math.abs(d) : String(d));
  const ya = g.append("g").attr("transform", `translate(${x0},0)`).call(yAxis);
  ya.select(".domain").remove();
  ya.selectAll("text").attr("font-size", 14.5).attr("font-family", font).attr("fill", "#222");

  // title
  g.append("text").attr("x", x0 + panelW / 2 - 1).attr("y", y0 + 22)
    .attr("text-anchor", "middle").attr("font-size", 18.5).attr("font-family", font)
    .attr("fill", "#222").text(name);

  if (showX) {
    const xAxis = d3.axisBottom(x).tickValues(xTicks).tickSize(0).tickPadding(11)
      .tickFormat(d3.format("d"));
    const xa = g.append("g").attr("transform", `translate(0,${y0 + panelH})`).call(xAxis);
    xa.select(".domain").remove();
    xa.selectAll("text").attr("font-size", 15).attr("font-family", font).attr("fill", "#222");
    g.append("text").attr("x", x0 + panelW / 2).attr("y", y0 + panelH + 50)
      .attr("text-anchor", "middle").attr("font-size", 19.5).attr("font-family", font)
      .attr("fill", "#222").text("elapsed time (min)");
  }
}

leftStations.forEach((s, i) => drawPanel(s, 0, i, i === leftStations.length - 1));
rightStations.forEach((s, i) => drawPanel(s, 1, i, i === rightStations.length - 1));

// y axis title
svg.append("text").attr("transform", "translate(24,590) rotate(-90)")
  .attr("text-anchor", "middle").attr("font-size", 16.5).attr("font-family", font)
  .attr("fill", "#222").text("water level (m)");

// legend
const lg = svg.append("g");
const lx = colX[1], ly = 1283, lw = panelW, lh = 29;
lg.append("rect").attr("x", lx + 1.5).attr("y", ly + 1.5).attr("width", lw).attr("height", lh)
  .attr("fill", "#e4e4e4");
lg.append("rect").attr("x", lx).attr("y", ly).attr("width", lw).attr("height", lh)
  .attr("fill", "#fff").attr("stroke", "#a8a8a8").attr("stroke-width", 1);
const legendPos = [[613, 670], [772, 829], [917, 974]];
seriesNames.forEach((n, k) => {
  const [a, t] = legendPos[k];
  const w = k === 2 ? 42 : 47;
  lg.append("line").attr("x1", a).attr("x2", a + w).attr("y1", ly + lh / 2).attr("y2", ly + lh / 2)
    .attr("stroke", styles[k].stroke).attr("stroke-width", 1.6)
    .attr("stroke-dasharray", k === 1 ? "11,6" : (k === 2 ? "12,5,2,5" : null));
  lg.append("text").attr("x", t).attr("y", ly + lh / 2 + 5.5).attr("font-size", 15.5)
    .attr("font-family", font).attr("fill", "#222").text(n);
});
</script>
</body></html>
